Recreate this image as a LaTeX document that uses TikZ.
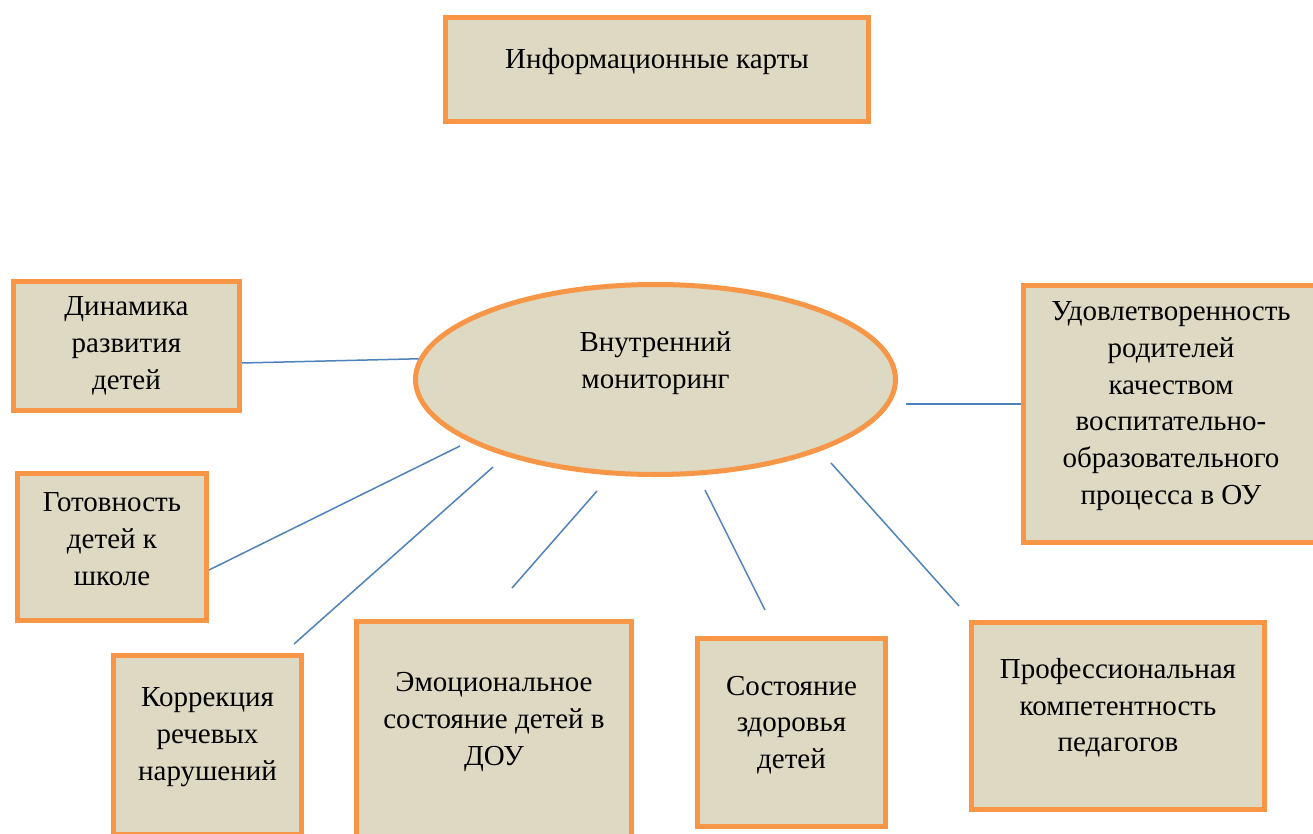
\documentclass[tikz,border=0pt]{standalone}
\usepackage{fontspec}
\setmainfont{Liberation Serif}
\usetikzlibrary{shapes.geometric}
\definecolor{cardfill}{HTML}{DDD9C3}
\definecolor{cardline}{HTML}{F79646}
\definecolor{linkblue}{HTML}{4F81BD}
\begin{document}
\begin{tikzpicture}[x=1pt,y=-1pt,
  card/.style={rectangle,draw=cardline,fill=cardfill,line width=5pt},
  txt/.style={align=center,font=\fontsize{29}{36.7}\selectfont},
  link/.style={draw=linkblue,line width=1.5pt}]
\path [use as bounding box,clip] (0,0) rectangle (1313,834);
% boxes
\node [card,minimum width=423pt,minimum height=104pt] (info) at (657,69.5) {};
\node [card,ellipse,minimum width=480pt,minimum height=190pt] (mon) at (655.5,379.5) {};
\node [card,minimum width=226pt,minimum height=129pt] (dyn) at (126.5,346) {};
\node [card,minimum width=295pt,minimum height=257pt] (sat) at (1171,414) {};
\node [card,minimum width=189pt,minimum height=147pt] (got) at (112,547) {};
\node [card,minimum width=188pt,minimum height=179pt] (kor) at (207.5,745) {};
\node [card,minimum width=275pt,minimum height=217pt] (emo) at (494,730) {};
\node [card,minimum width=188pt,minimum height=188pt] (zdr) at (791.5,732.5) {};
\node [card,minimum width=293pt,minimum height=187pt] (pro) at (1118,716) {};
% texts
\node [txt] (info-t) at ([yshift=7.5pt]info.center) {Информационные карты};
\node [txt] (mon-t) at ([yshift=16.5pt]mon.center) {Внутренний\\мониторинг};
\node [txt] (dyn-t) at (dyn.center) {Динамика\\развития\\детей};
\node [txt] (sat-t) at ([yshift=8pt]sat.center) {Удовлетворенность\\родителей\\качеством\\воспитательно-\\образовательного\\процесса в ОУ};
\node [txt] (got-t) at ([yshift=8pt]got.center) {Готовность\\детей к\\школе};
\node [txt] (kor-t) at ([yshift=8pt]kor.center) {Коррекция\\речевых\\нарушений};
\node [txt] (emo-t) at ([yshift=8pt]emo.center) {Эмоциональное\\состояние детей в\\ДОУ};
\node [txt] (zdr-t) at ([yshift=7.5pt]zdr.center) {Состояние\\здоровья\\детей};
\node [txt] (pro-t) at ([yshift=8pt]pro.center) {Профессиональная\\компетентность\\педагогов};
% free ends of the links
\coordinate (e1) at (906,404);
\coordinate (e2) at (460,446);
\coordinate (e3) at (493,467);
\coordinate (e4) at (294,644);
\coordinate (e5) at (597,491);
\coordinate (e6) at (512,588);
\coordinate (e7) at (705,490);
\coordinate (e8) at (765,610);
\coordinate (e9) at (831,463);
\coordinate (e10) at (959,606);
% links
\draw [link] ([yshift=-17pt]dyn.east) -- (mon.175);
\draw [link] (e1) -- ([yshift=10pt]sat.west);
\draw [link] ([yshift=-23pt]got.east) -- (e2);
\draw [link] (e3) -- (e4);
\draw [link] (e5) -- (e6);
\draw [link] (e7) -- (e8);
\draw [link] (e9) -- (e10);
\end{tikzpicture}
\end{document}
